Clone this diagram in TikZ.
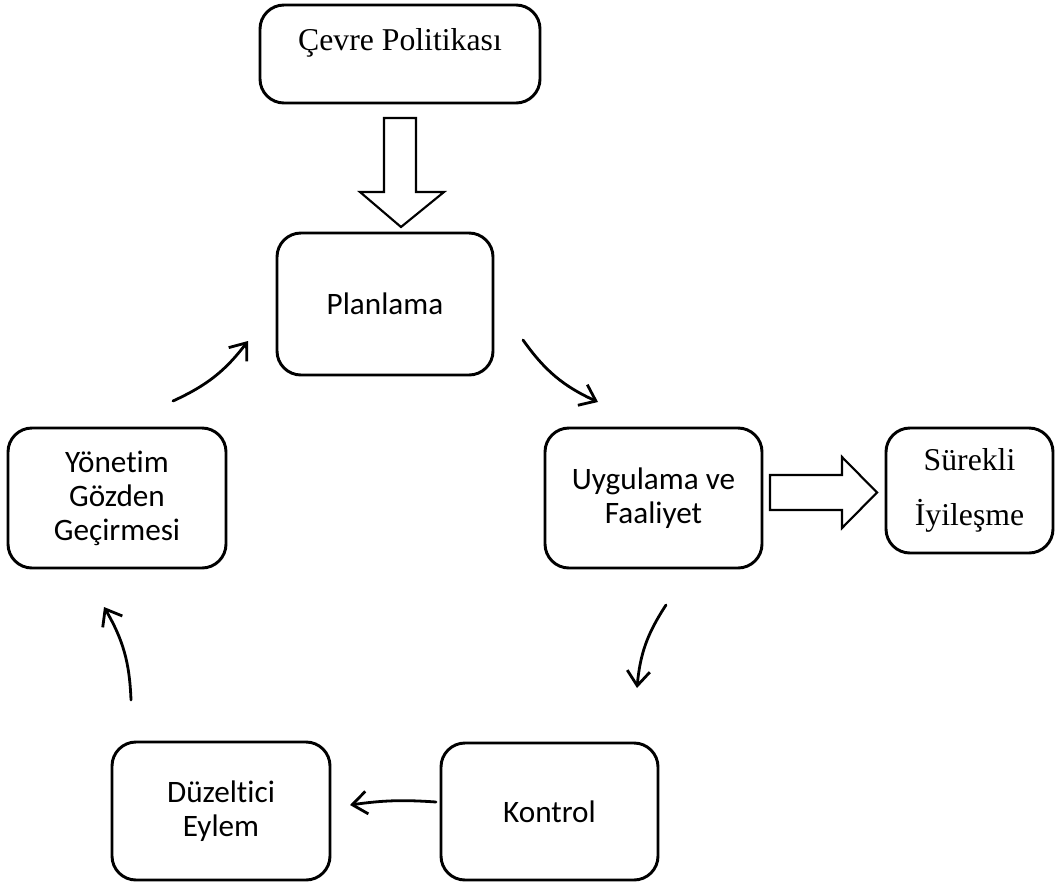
\documentclass[tikz,border=0pt]{standalone}
\usepackage{fontspec}
\setmainfont{Liberation Serif}
\newfontfamily\calibrilike[Ligatures=NoCommon]{Carlito}
\usetikzlibrary{arrows.meta}
\begin{document}
\begin{tikzpicture}[x=0.75pt,y=-0.75pt,
  box/.style={draw, line width=2.2pt, rounded corners=18pt, inner sep=0pt, align=center},
  sanstext/.style={font=\calibrilike\fontsize{23.4}{25.5}\selectfont},
  seriftext/.style={font=\fontsize{23.8}{41}\selectfont},
  cyc/.style={line width=2.1pt, line cap=round, -{Straight Barb[length=11pt,width=17pt,line width=2.1pt]}},
  hollow/.style={draw, line width=1.6pt, line join=miter}]
\useasboundingbox (0,0) rectangle (1059,889);

% boxes
\node[box, seriftext, minimum width=210pt, text height=33.75pt, text depth=39.75pt] (cevre) at (400,54) {Çevre Politikası};
\node[box, sanstext, minimum width=162pt, minimum height=106.5pt] (plan) at (385,304) {Planlama};
\node[box, sanstext, minimum width=162.75pt, minimum height=105pt] (uyg) at (653.5,498) {Uygulama ve\\Faaliyet};
\node[box, seriftext, minimum width=125.25pt, minimum height=93.75pt] (surekli) at (969.5,490.5) {Sürekli\\İyileşme};
\node[box, sanstext, minimum width=163.5pt, minimum height=105pt] (yon) at (117,498) {Yönetim\\Gözden\\Geçirmesi};
\node[box, sanstext, minimum width=162.75pt, minimum height=102.75pt] (kontrol) at (549.5,811.5) {Kontrol};
\node[box, sanstext, minimum width=163.5pt, minimum height=103.5pt] (duz) at (221,811) {Düzeltici\\Eylem};

% block arrows
\draw[hollow] (384,118) -- (416,118) -- (416,192) -- (444,192) -- (401,227) -- (360,192) -- (384,192) -- cycle;
\draw[hollow] (770,475) -- (842,475) -- (842,457) -- (877,492.5) -- (842,528) -- (842,510) -- (770,510) -- cycle;

% cycle connectors
\coordinate (p1) at (523,340); \coordinate (u1) at (598,402);
\coordinate (u2) at (666,605); \coordinate (k1) at (637,688);
\coordinate (k2) at (436,802); \coordinate (d1) at (350,805);
\coordinate (d2) at (131,700); \coordinate (y1) at (104,607);
\coordinate (y2) at (173,401); \coordinate (p2) at (248,341);
\draw[cyc] (p1) to[bend right=15] (u1);
\draw[cyc] (u2) to[bend right=14] (k1);
\draw[cyc] (k2) to[bend right=6] (d1);
\draw[cyc] (d2) to[bend right=14] (y1);
\draw[cyc] (y2) to[bend right=14] (p2);
\end{tikzpicture}
\end{document}
